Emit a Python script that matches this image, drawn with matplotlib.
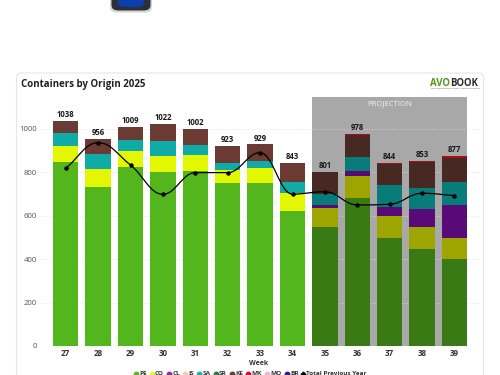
import numpy as np
import matplotlib
matplotlib.use('Agg')
import matplotlib.pyplot as plt
from matplotlib.lines import Line2D
from matplotlib.patches import FancyBboxPatch, PathPatch
from matplotlib.path import Path

plt.rcParams['font.family'] = ['Open Sans', 'DejaVu Sans']

weeks = [27, 28, 29, 30, 31, 32, 33, 34, 35, 36, 37, 38, 39]
n_actual = 8

pe = [846, 734, 825, 802, 806, 750, 750, 624, 548, 683, 499, 448, 400]
co = [74, 83, 74, 75, 76, 59, 69, 82, 86, 102, 100, 100, 99]
cl = [0, 0, 0, 0, 0, 0, 0, 0, 16, 21, 41, 82, 151]
is_ = [0, 0, 0, 0, 0, 0, 0, 0, 0, 0, 2, 0, 0]
sa = [63, 69, 49, 68, 43, 33, 35, 51, 49, 63, 100, 99, 107]
ke = [55, 70, 61, 77, 77, 81, 75, 86, 102, 105, 99, 119, 110]
mx = [0, 0, 0, 0, 0, 0, 0, 0, 0, 4, 3, 5, 10]
prev_year = [819, 937, 834, 699, 799, 799, 891, 700, 711, 650, 653, 704, 693]

series = [pe, co, cl, is_, sa, ke, mx]
actual_colors = ['#52b61c', '#e2f700', '#8a1a9a', '#f3cdb2', '#10aaa7', '#6a3a33', '#d01030']
proj_colors = ['#3a7a14', '#9ea500', '#5a0a78', '#d9a9c0', '#077c78', '#472823', '#a50f1c']

legend_names = ['PE', 'CO', 'CL', 'IS', 'SA', 'SR', 'KE', 'MX', 'MO', 'BR', 'Total Previous Year']
legend_colors = ['#5fb52e', '#e6f53c', '#8f2aa0', '#f3cdb2', '#22b0b0', '#2f7a3f',
                 '#6a3a33', '#d01030', '#eeb5dc', '#3a1a8a', 'black']
legend_x = [135.7, 151.7, 169, 185, 199, 215.7, 232, 248, 267, 287, 303]

fig = plt.figure(figsize=(5, 3.75), dpi=100)
W, H = 500.0, 375.0

# card behind the chart
card = FancyBboxPatch((16.5 / W, -0.1), 467 / W, (375 - 73) / H + 0.1,
                      boxstyle='round,pad=0,rounding_size=0.012', transform=fig.transFigure,
                      facecolor='white', edgecolor='#e6e6e6', linewidth=0.8, zorder=-5)
fig.patches.append(card)

# cut off button at top
for dx, col, h in [(0, '#d5d5d5', 12.5), (1.5, '#2b2f3a', 10.5), (8, '#0b3fae', 7)]:
    fig.patches.append(FancyBboxPatch((110 / W + dx / W, 1 - h / H), (42 - 2 * dx) / W, 0.1,
                                      boxstyle='round,pad=0,rounding_size=0.014', zorder=-4,
                                      transform=fig.transFigure, facecolor=col, edgecolor='none'))

ax = fig.add_axes([39.3 / W, 1 - 346 / H, (480 - 39.3) / W, (346 - 96.7) / H])
ax.patch.set_alpha(0)
x = np.arange(len(weeks))
bar_w = 0.785

ax.axvspan(7.61, 12.39, facecolor='#a8a8a8', edgecolor='none', zorder=0.5)
ax.yaxis.grid(True, linestyle=(0, (1, 2)), color='#dedede', linewidth=0.6, zorder=1)
ax.set_axisbelow(True)

bottom = np.zeros(len(weeks))
for vals, c_a, c_p in zip(series, actual_colors, proj_colors):
    vals = np.array(vals, dtype=float)
    cols = [c_a] * n_actual + [c_p] * (len(weeks) - n_actual)
    ax.bar(x, vals, bar_w, bottom=bottom, color=cols, linewidth=0, zorder=2)
    bottom += vals

for xi, total in zip(x, bottom):
    ax.text(xi, total + 8, f'{int(total)}', ha='center', va='bottom', fontsize=5.6,
            fontweight='bold', color='#1a1a1a', zorder=4)

# smooth line through the points, flat at turning points
py = np.array(prev_year, dtype=float)
slopes = np.diff(py)
tang = np.zeros(len(py))
for i in range(1, len(py) - 1):
    if slopes[i - 1] * slopes[i] > 0:
        tang[i] = 2 * slopes[i - 1] * slopes[i] / (slopes[i - 1] + slopes[i])
tang[0], tang[-1] = slopes[0], slopes[-1]
verts = [(x[0], py[0])]
codes = [Path.MOVETO]
for i in range(len(py) - 1):
    verts += [(x[i] + 0.4, py[i] + 0.4 * tang[i]), (x[i + 1] - 0.4, py[i + 1] - 0.4 * tang[i + 1]),
              (x[i + 1], py[i + 1])]
    codes += [Path.CURVE4] * 3
ax.add_patch(PathPatch(Path(verts, codes), facecolor='none', edgecolor='black', linewidth=0.9, zorder=5))
ax.plot(x, py, linestyle='none', marker='o', markersize=2.2, color='black', zorder=6)

ax.set_xlim((39.3 - 65.7) / 32.4, (480 - 65.7) / 32.4)
ax.set_ylim(0, (346 - 96.7) / 0.217)
ax.set_xticks(x)
ax.set_xticklabels(weeks, fontsize=5.8, fontweight='bold', color='#333333')
ax.set_yticks([0, 200, 400, 600, 800, 1000])
ax.tick_params(axis='y', labelsize=5.6, labelcolor='#555555', length=0, pad=1.5)
ax.tick_params(axis='x', length=0, pad=2.5)
for s in ax.spines.values():
    s.set_visible(False)

ax.text(10.0, 1118, 'PROJECTION', ha='center', va='center', fontsize=5.6, color='#f2f2f2', zorder=6)

fig.text(21 / W, 1 - 84 / H, 'Containers by Origin 2025', fontsize=7, fontweight='bold',
         color='#222222', ha='left', va='center')
fig.text(259 / W, 1 - 363.5 / H, 'Week', fontsize=5.0, fontweight='bold', color='#333333',
         ha='center', va='center')

# logo
fig.text(430.5 / W, 1 - 83.5 / H, 'AVO', fontsize=6.9, fontweight='bold', color='#4e9a1e', ha='left', va='center')
fig.text(450 / W, 1 - 83.5 / H, 'BOOK', fontsize=6.9, fontweight='bold', color='#2b2b2b', ha='left', va='center')
fig.text(431 / W, 1 - 88.5 / H, 'CONNECTING THE GLOBAL AVOCADO MARKET', fontsize=1.6, color='#444444',
         ha='left', va='center')

# legend, written by hand since the entries sit unevenly and the picture edge cuts them
for name, col, lx in zip(legend_names, legend_colors, legend_x):
    mk = 'D' if name.startswith('Total') else 'o'
    ms = 2.4 if mk == 'D' else 3.2
    fig.add_artist(Line2D([lx / W], [1 - 373.5 / H], linestyle='none', marker=mk, markersize=ms,
                          color=col, transform=fig.transFigure))
    fig.text((lx + 3.4) / W, 1 - 373.5 / H, name, fontsize=4.6, fontweight='bold', color='#333333',
             ha='left', va='center')

fig.savefig('out.png', dpi=100)
